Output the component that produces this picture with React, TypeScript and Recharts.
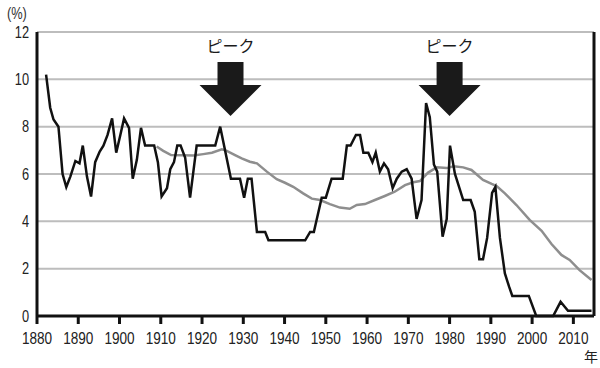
import { LineChart, Line, XAxis, YAxis, CartesianGrid, ReferenceDot, ReferenceLine } from 'recharts';

// black line: vertices (year, %)
const blackYears = [
  1882.2, 1883.2, 1884.0, 1885.2, 1886.2, 1887.1, 1888.1, 1889.3, 1890.3, 1891.1,
  1892.1, 1893.1, 1894.1, 1895.2, 1896.1, 1897.1, 1898.2, 1899.2, 1900.2, 1901.1,
  1902.3, 1903.2, 1904.2, 1905.2, 1906.2, 1908.4, 1909.3, 1910.2, 1911.5, 1912.3,
  1913.2, 1914.0, 1914.8, 1915.9, 1917.1, 1918.7, 1923.2, 1924.4, 1927.0, 1929.2,
  1930.2, 1931.1, 1932.0, 1933.3, 1935.3, 1936.1, 1945.0, 1946.2, 1947.1, 1949.0,
  1950.0, 1951.4, 1954.1, 1955.1, 1956.0, 1957.3, 1958.3, 1959.1, 1960.3, 1961.3,
  1962.1, 1963.1, 1964.1, 1965.1, 1966.2, 1967.2, 1968.4, 1969.6, 1970.8, 1972.0,
  1973.2, 1974.3, 1975.2, 1976.2, 1977.0, 1978.3, 1979.3, 1980.1, 1981.3, 1983.3,
  1985.1, 1986.1, 1987.2, 1988.1, 1989.1, 1990.3, 1991.1, 1992.2, 1993.4, 1994.4,
  1995.2, 1999.2, 2001.0, 2005.1, 2006.9, 2008.7, 2014.4,
];
const blackValues = [
  10.2, 8.8, 8.3, 8.0, 6.0, 5.45, 5.9, 6.55, 6.45, 7.2,
  5.9, 5.05, 6.5, 6.95, 7.2, 7.65, 8.35, 6.9, 7.65, 8.35,
  7.95, 5.8, 6.6, 7.95, 7.2, 7.2, 6.5, 5.05, 5.4, 6.2,
  6.5, 7.2, 7.2, 6.7, 5.0, 7.2, 7.2, 8.0, 5.8, 5.8,
  5.0, 5.8, 5.8, 3.55, 3.55, 3.2, 3.2, 3.55, 3.55, 5.0,
  5.0, 5.8, 5.8, 7.2, 7.2, 7.65, 7.65, 6.9, 6.9, 6.5,
  6.9, 6.1, 6.45, 6.2, 5.4, 5.8, 6.1, 6.2, 5.8, 4.1,
  4.9, 9.0, 8.4, 6.4, 6.1, 3.35, 4.1, 7.2, 6.0, 4.9,
  4.9, 4.4, 2.4, 2.4, 3.3, 5.2, 5.45, 3.3, 1.8, 1.25,
  0.85, 0.85, 0, 0, 0.6, 0.22, 0.22,
];

// gray (smoothed) line
const grayYears = [
  1909.0, 1910.6, 1912.5, 1917.9, 1920.3, 1922.4, 1924.8, 1926.0, 1928.0, 1929.6,
  1931.6, 1933.3, 1935.7, 1938.1, 1940.1, 1942.1, 1944.5, 1946.6, 1948.6, 1951.0,
  1953.4, 1955.8, 1957.5, 1959.5, 1961.9, 1964.3, 1966.7, 1969.2, 1971.2, 1972.8,
  1974.8, 1976.9, 1979.3, 1981.0, 1983.3, 1985.3, 1988.1, 1990.2, 1991.4, 1993.4,
  1996.2, 1999.4, 2002.3, 2004.7, 2007.1, 2009.1, 2011.5, 2014.4,
];
const grayValues = [
  7.16, 6.98, 6.8, 6.78, 6.84, 6.9, 7.04, 6.98, 6.8, 6.66,
  6.52, 6.45, 6.1, 5.78, 5.63, 5.46, 5.18, 4.96, 4.9, 4.73,
  4.58, 4.53, 4.69, 4.73, 4.9, 5.07, 5.25, 5.53, 5.65, 5.7,
  6.06, 6.28, 6.25, 6.33, 6.28, 6.17, 5.75, 5.58, 5.49, 5.18,
  4.69, 4.06, 3.6, 3.04, 2.58, 2.37, 1.94, 1.52,
];

const xTicks = [1880, 1890, 1900, 1910, 1920, 1930, 1940, 1950, 1960, 1970, 1980, 1990, 2000, 2010];
const yTicks = [0, 2, 4, 6, 8, 10, 12];

// arrow tips ("ピーク")
const peakYears = [1926.9, 1980.0];
const peakTipValue = 8.45;
const peakLabel = 'ピーク';

const blackData = blackYears.map((year, i) => ({ year, value: blackValues[i] }));
const grayData = grayYears.map((year, i) => ({ year, value: grayValues[i] }));

const fontFamily = '"Liberation Sans", Arial, sans-serif';
const jpFont = '"Noto Sans CJK JP", sans-serif';
const narrow = 0.8; // the original uses a condensed face

const XTick = ({ x, y, payload }: any) => (
  <text
    transform={`translate(${x},${y}) scale(${narrow},1)`}
    textAnchor="middle"
    dy="0.71em"
    fontSize={17}
    fill="#222"
    fontFamily={fontFamily}
  >
    {payload.value}
  </text>
);

const YTick = ({ x, y, payload }: any) => (
  <text
    transform={`translate(${x},${y}) scale(${narrow},1)`}
    textAnchor="end"
    dy="0.355em"
    fontSize={16}
    fill="#222"
    fontFamily={fontFamily}
  >
    {payload.value}
  </text>
);

const PeakArrow = (props: any) => {
  const { cx, cy } = props;
  const pts = [
    [cx, cy],
    [cx - 31, cy - 31],
    [cx - 13, cy - 31],
    [cx - 13, cy - 54],
    [cx + 13, cy - 54],
    [cx + 13, cy - 31],
    [cx + 31, cy - 31],
  ]
    .map((p) => p.join(','))
    .join(' ');
  return (
    <g>
      <polygon points={pts} fill="#1a1a1a" />
      <text x={cx} y={cy - 64} textAnchor="middle" fontSize={16} fill="#1a1a1a" fontFamily={jpFont}>
        {peakLabel}
      </text>
    </g>
  );
};

export default function App() {
  return (
    <div style={{ position: 'absolute', left: 0, top: 0, width: 600, height: 368 }}>
      <LineChart width={600} height={368} margin={{ top: 32, right: 6, left: 0, bottom: 22 }}>
        <CartesianGrid horizontal vertical={false} stroke="#bdbdbd" strokeWidth={2} />
        <XAxis
          dataKey="year"
          type="number"
          domain={[1880, 2015]}
          allowDataOverflow
          ticks={xTicks}
          interval={0}
          axisLine={{ stroke: '#111', strokeWidth: 3 }}
          tickLine={{ stroke: '#111', strokeWidth: 3 }}
          tickSize={8}
          tickMargin={8}
          tick={<XTick />}
        />
        <YAxis
          type="number"
          domain={[0, 12]}
          ticks={yTicks}
          width={37}
          axisLine={{ stroke: '#111', strokeWidth: 3 }}
          tickLine={false}
          tickMargin={2}
          tick={<YTick />}
        />
        <ReferenceLine x={2015} stroke="#111" strokeWidth={3} />
        <Line
          data={grayData}
          dataKey="value"
          stroke="#8e8e8e"
          strokeWidth={2.5}
          dot={false}
          isAnimationActive={false}
        />
        <Line
          data={blackData}
          dataKey="value"
          stroke="#111"
          strokeWidth={2.5}
          dot={false}
          strokeLinejoin="miter"
          isAnimationActive={false}
        />
        {peakYears.map((yr) => (
          <ReferenceDot key={yr} x={yr} y={peakTipValue} r={0} shape={PeakArrow} />
        ))}
      </LineChart>
      <svg width={600} height={368} style={{ position: 'absolute', left: 0, top: 0, pointerEvents: 'none' }}>
        <text
          transform={`translate(7,19) scale(${narrow},1)`}
          fontSize={16}
          fill="#333"
          fontFamily={fontFamily}
        >
          (%)
        </text>
        <text x={584} y={362} fontSize={14} fill="#222" fontFamily={jpFont}>
          年
        </text>
      </svg>
    </div>
  );
}
